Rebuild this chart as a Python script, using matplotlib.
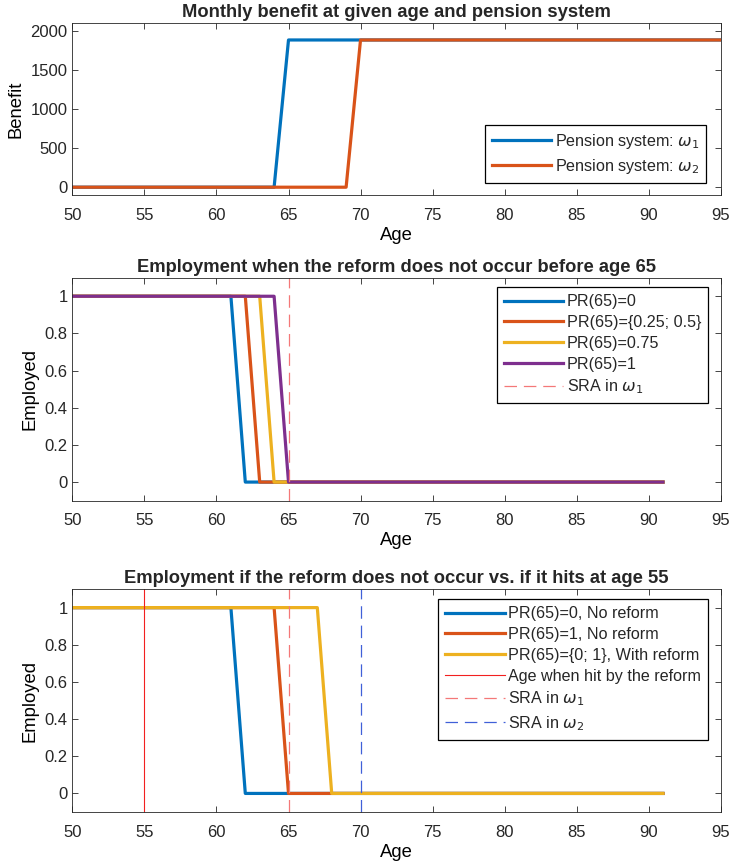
import matplotlib as mpl
mpl.use("Agg")
import matplotlib.pyplot as plt

# matlab-ish defaults
plt.rcParams["font.family"] = ["Liberation Sans", "DejaVu Sans"]
plt.rcParams["mathtext.fontset"] = "dejavusans"
plt.rcParams["axes.edgecolor"] = "#262626"
plt.rcParams["xtick.color"] = "#262626"
plt.rcParams["ytick.color"] = "#262626"
plt.rcParams["text.color"] = "#262626"

BLUE = "#0072BD"
ORANGE = "#D95319"
YELLOW = "#EDB120"
PURPLE = "#7E2F8E"

# panel 1: monthly benefit
ben_age_w1 = [50, 64, 65, 95]
ben_w1 = [0, 0, 1880, 1880]
ben_age_w2 = [50, 69, 70, 95]
ben_w2 = [0, 0, 1880, 1880]

# panel 2: employment, no reform before 65
emp_age_pr0 = [50, 61, 62, 91]
emp_pr0 = [1, 1, 0, 0]
emp_age_pr025 = [50, 62, 63, 91]
emp_pr025 = [1, 1, 0, 0]
emp_age_pr075 = [50, 63, 64, 91]
emp_pr075 = [1, 1, 0, 0]
emp_age_pr1 = [50, 64, 65, 91]
emp_pr1 = [1, 1, 0, 0]

# panel 3: no reform vs reform at 55
r_age_pr0 = [50, 61, 62, 91]
r_pr0 = [1, 1, 0, 0]
r_age_pr1 = [50, 64, 65, 91]
r_pr1 = [1, 1, 0, 0]
r_age_with = [50, 67, 68, 91]
r_with = [1, 1, 0, 0]

reform_age = 55
sra_w1 = 65
sra_w2 = 70

xticks = list(range(50, 96, 5))
emp_ticks = [0, 0.2, 0.4, 0.6, 0.8, 1]
emp_ticklabels = ["0", "0.2", "0.4", "0.6", "0.8", "1"]

fig = plt.figure(figsize=(7.32, 8.68), dpi=100)
ax1 = fig.add_axes([0.099, 0.7753, 0.8854, 0.1985])
ax2 = fig.add_axes([0.099, 0.4232, 0.8854, 0.2569])
ax3 = fig.add_axes([0.099, 0.0645, 0.8854, 0.2569])

lw = 2.3
tfs = 13.2    # titles
lfs = 13.3    # axis labels
kfs = 12      # tick labels
gfs = 11.6    # legends
dash = (0, (10, 5.5))
red_dash = dict(c="#F47878", lw=0.9, ls=dash)

ax1.plot(ben_age_w1, ben_w1, c=BLUE, lw=lw, label=r"Pension system: $\omega_1$")
ax1.plot(ben_age_w2, ben_w2, c=ORANGE, lw=lw, label=r"Pension system: $\omega_2$")
ax1.set_ylim(-100, 2100)
ax1.set_yticks([0, 500, 1000, 1500, 2000])
ax1.set_title("Monthly benefit at given age and pension system",
              fontweight="bold", fontsize=tfs, pad=4)
ax1.set_ylabel("Benefit", fontsize=lfs)
leg_pos1 = ("lower right", (0.978, 0.07))

ax2.plot(emp_age_pr0, emp_pr0, c=BLUE, lw=lw, label="PR(65)=0")
ax2.plot(emp_age_pr025, emp_pr025, c=ORANGE, lw=lw, label="PR(65)={0.25; 0.5}")
ax2.plot(emp_age_pr075, emp_pr075, c=YELLOW, lw=lw, label="PR(65)=0.75")
ax2.plot(emp_age_pr1, emp_pr1, c=PURPLE, lw=lw, label="PR(65)=1")
ax2.axvline(sra_w1, label=r"SRA in $\omega_1$", **red_dash)
ax2.set_title("Employment when the reform does not occur before age 65",
              fontweight="bold", fontsize=tfs, pad=4)
leg_pos2 = ("upper right", (0.981, 0.958))

ax3.plot(r_age_pr0, r_pr0, c=BLUE, lw=lw, label="PR(65)=0, No reform")
ax3.plot(r_age_pr1, r_pr1, c=ORANGE, lw=lw, label="PR(65)=1, No reform")
ax3.plot(r_age_with, r_with, c=YELLOW, lw=lw, label="PR(65)={0; 1}, With reform")
ax3.axvline(reform_age, c="#F22020", lw=0.8,
            label="Age when hit by the reform")
ax3.axvline(sra_w1, label=r"SRA in $\omega_1$", **red_dash)
ax3.axvline(sra_w2, c="#4060D8", lw=0.9, ls=dash,
            label=r"SRA in $\omega_2$")
ax3.set_title("Employment if the reform does not occur vs. if it hits at age 55",
              fontweight="bold", fontsize=tfs, pad=4)
leg_pos3 = ("upper right", (0.981, 0.955))

for ax in (ax2, ax3):
    ax.set_ylim(-0.1, 1.1)
    ax.set_yticks(emp_ticks)
    ax.set_yticklabels(emp_ticklabels)
    ax.set_ylabel("Employed", fontsize=lfs)

for ax, (loc, anchor) in zip((ax1, ax2, ax3), (leg_pos1, leg_pos2, leg_pos3)):
    ax.set_xlim(50, 95)
    ax.set_xticks(xticks)
    ax.set_xlabel("Age", fontsize=lfs, labelpad=3)
    ax.tick_params(direction="in", top=True, right=True, length=4,
                   width=0.6, labelsize=kfs)
    ax.tick_params(axis="x", pad=9)
    for sp in ax.spines.values():
        sp.set_linewidth(0.6)
    leg = ax.legend(loc=loc, bbox_to_anchor=anchor, fontsize=gfs,
                    handlelength=3.7, handletextpad=0.2, labelspacing=0.36,
                    borderpad=0.45, borderaxespad=0, fancybox=False,
                    edgecolor="black", framealpha=1)
    leg.get_frame().set_linewidth(0.9)

fig.savefig("out.png")
